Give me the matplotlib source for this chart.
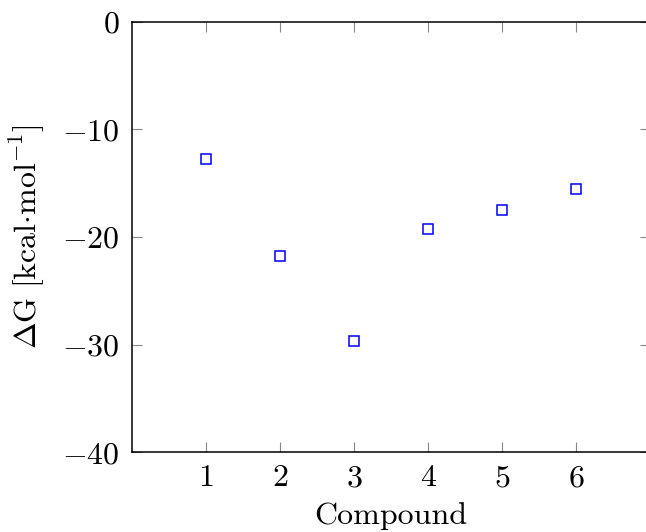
import matplotlib
matplotlib.use("Agg")
import matplotlib.pyplot as plt

# binding energies per compound
compounds = [1, 2, 3, 4, 5, 6]
delta_g = [-12.8, -21.8, -29.7, -19.3, -17.5, -15.5]

plt.rcParams['font.family'] = 'cmr10'
plt.rcParams['mathtext.fontset'] = 'cm'
plt.rcParams['axes.formatter.use_mathtext'] = True
plt.rcParams['font.size'] = 23

fig = plt.figure(figsize=(6.46, 5.32), dpi=100)
ax = fig.add_axes([132 / 646, 1 - 452.4 / 532, (650 - 132) / 646, (452.4 - 21.6) / 532])

ax.plot(compounds, delta_g, linestyle='none', marker='s', markersize=7.8,
        markerfacecolor='white', markeredgecolor='blue', markeredgewidth=1.1)

ax.set_xlim(0, 7)
ax.set_ylim(-40, 0)
ax.set_xticks(compounds)
ax.set_yticks([-40, -30, -20, -10, 0])

ax.tick_params(direction='in', length=7.5, width=0.8, color='#888888',
               top=True, right=True, labelsize=23)
ax.tick_params(axis='x', pad=9)
ax.tick_params(axis='y', pad=9)
for s in ax.spines.values():
    s.set_linewidth(1.1)

ax.set_xlabel('Compound', fontsize=23, labelpad=7)
ax.set_ylabel(r'$\Delta\mathrm{G}\ [\mathrm{kcal{\cdot}mol}^{-1}]$', fontsize=23, labelpad=11)

fig.savefig('out.png', dpi=100)
